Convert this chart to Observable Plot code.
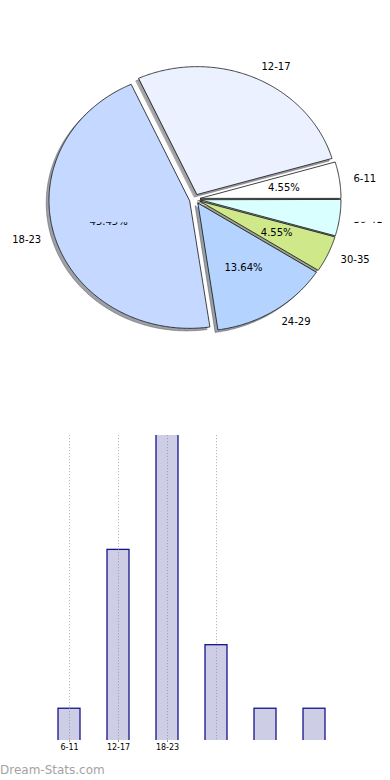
<!DOCTYPE html>
<html><head><meta charset="utf-8">
<script src="https://cdn.jsdelivr.net/npm/d3@7"></script>
<script src="https://cdn.jsdelivr.net/npm/@observablehq/plot@0.6"></script>
<style>
html,body{margin:0;padding:0;background:#fff}
body{width:390px;height:780px;overflow:hidden;font-family:"DejaVu Sans",sans-serif}
svg{display:block}
#wm{height:20px;line-height:20px;font-size:12px;color:#a3a3a3;white-space:nowrap}
</style></head><body>
<div id="pie"></div><div id="bars"></div><div id="wm">Dream-Stats.com</div>
<script>
// ---- data ----
const categories = ["6-11", "12-17", "18-23", "24-29", "30-35", "36-41"];
const counts = [1, 6, 10, 3, 1, 1];
const sliceColors = ["#ffffff", "#ebf1ff", "#c5d8ff", "#b4d4ff", "#cfe98a", "#d9ffff"];
const explode = [0.04, 0.04, 0.04, 0.04, 0.04, 0.04];
const showPct = [true, false, true, true, true, false];
const pctHiddenTop = [0, 0, 0.53, 0, 0, 0];
const labelHiddenTop = [0, 0, 0, 0, 0, 0.71];
const barTickLabels = ["6-11", "12-17", "18-23"];
const barGridCats = ["6-11", "12-17", "18-23", "24-29"];
const barMax = 9.6;

// ---- pie geometry (matplotlib-like, counterclockwise from 3 o'clock) ----
const total = d3.sum(counts);
let acc = 0;
const slices = categories.map((cat, i) => {
  const a0 = acc / total * 2 * Math.PI; acc += counts[i];
  const a1 = acc / total * 2 * Math.PI;
  const am = (a0 + a1) / 2;
  return {cat, i, a0, a1, am, ox: explode[i] * Math.cos(am), oy: explode[i] * Math.sin(am),
          color: sliceColors[i], pct: (counts[i] / total * 100).toFixed(2) + "%"};
});
function ring(s, dx, dy, col) {
  const pts = [{cat: s.cat, x: s.ox + dx, y: s.oy + dy, col}];
  const n = Math.max(4, Math.ceil((s.a1 - s.a0) / (Math.PI / 360)));
  for (let k = 0; k <= n; k++) {
    const a = s.a0 + (s.a1 - s.a0) * k / n;
    pts.push({cat: s.cat, x: s.ox + dx + Math.cos(a), y: s.oy + dy + Math.sin(a), col});
  }
  return pts;
}
const shadowPts = slices.flatMap(s => {
  const c = d3.rgb(s.color);
  return ring(s, -0.02, -0.02, d3.rgb(c.r * 0.3, c.g * 0.3, c.b * 0.3).formatHex());
});
const slicePts = slices.flatMap(s => ring(s, 0, 0, s.color));

const labels = slices.map(s => ({x: s.ox + 1.1 * Math.cos(s.am), y: s.oy + 1.1 * Math.sin(s.am),
  text: s.cat, hide: labelHiddenTop[s.i], anchor: Math.cos(s.am) > 0 ? "start" : "end"}));
const pcts = slices.filter(s => showPct[s.i]).map(s => ({x: s.ox + 0.6 * Math.cos(s.am),
  y: s.oy + 0.6 * Math.sin(s.am), text: s.pct, hide: pctHiddenTop[s.i], anchor: "middle"}));
const allTexts = [...labels, ...pcts];

const font = {fontFamily: "DejaVu Sans", fontSize: 10, fill: "#000"};
const textMarks = ["start", "end", "middle"].map(a =>
  Plot.text(allTexts.filter(d => d.anchor === a), {x: "x", y: "y", text: "text", textAnchor: a, ...font}));

const rx = 140.5, ry = 127.8, cx = 194.4, cy = 198.6, W = 390, H = 390;
const pie = Plot.plot({
  width: W, height: H, margin: 0,
  x: {domain: [-cx / rx, (W - cx) / rx], axis: null},
  y: {domain: [-(H - cy) / ry, cy / ry], axis: null},
  color: {type: "identity"},
  marks: [
    Plot.line(shadowPts, {x: "x", y: "y", z: "cat", fill: "col", stroke: "col", fillOpacity: 0.5,
      strokeOpacity: 0.5, strokeWidth: 0.8, curve: "linear-closed"}),
    Plot.line(slicePts, {x: "x", y: "y", z: "cat", fill: "col", stroke: "#111", strokeWidth: 0.8,
      strokeLinejoin: "miter", curve: "linear-closed"}),
    ...textMarks
  ]
});
// only the lower part of some texts is visible in the original: clip them
const defs = d3.select(pie).insert("defs", ":first-child");
allTexts.filter(d => d.hide).forEach((d, k) => {
  defs.append("clipPath").attr("id", "cp" + k).attr("clipPathUnits", "objectBoundingBox")
    .append("rect").attr("x", -0.1).attr("y", d.hide).attr("width", 1.2).attr("height", 1);
  d3.select(pie).selectAll("text").filter(function() { return this.textContent === d.text; })
    .attr("clip-path", `url(#cp${k})`);
});
document.getElementById("pie").append(pie);

// ---- bar chart ----
const barData = categories.map((cat, i) => ({cat, n: counts[i]}));
const bars = Plot.plot({
  width: 390, height: 370, marginTop: 45, marginBottom: 20, marginLeft: 31, marginRight: 37,
  x: {domain: categories, paddingInner: 0.55, paddingOuter: 0.5, label: null},
  y: {domain: [0, barMax], axis: null},
  marks: [
    Plot.barY(barData, {x: "cat", y: "n", fill: "#cdcde6", stroke: "#14148c", strokeWidth: 1.3,
      insetBottom: -3, clip: true}),
    Plot.ruleX(barGridCats, {x: d => d, stroke: "#888", strokeOpacity: 0.6, strokeWidth: 1,
      strokeDasharray: "1.2,1.8"}),
    Plot.axisX({ticks: barTickLabels, tickSize: 2, tickPadding: 2, fontSize: 8,
      fontFamily: "DejaVu Sans", stroke: "#999", label: null})
  ]
});
document.getElementById("bars").append(bars);
</script>
</body></html>
